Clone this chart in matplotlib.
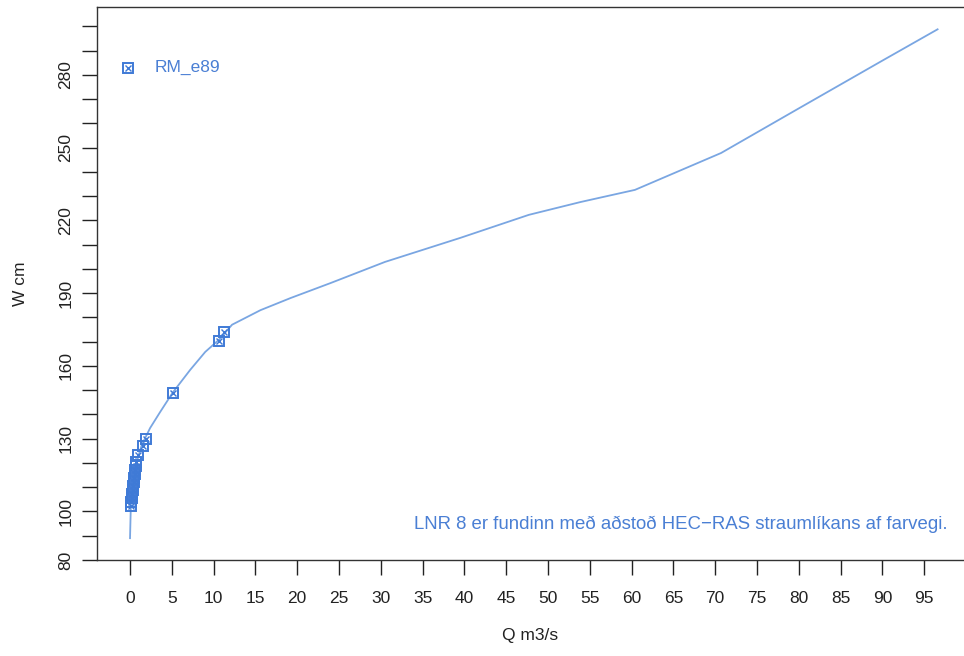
import numpy as np
import matplotlib.pyplot as plt

plt.rcParams['font.family'] = ['Liberation Sans', 'DejaVu Sans']

# measured points RM_e89 (Q m3/s, W cm)
meas_q = [11.26, 10.66, 5.15, 1.92, 1.56, 0.96, 0.72, 0.72, 0.60, 0.60,
          0.48, 0.48, 0.36, 0.36, 0.24, 0.24, 0.12, 0.12]
meas_w = [174.0, 170.3, 148.9, 129.9, 127.0, 123.3, 120.4, 118.8, 117.1, 115.5,
          113.8, 112.2, 110.5, 108.9, 107.2, 105.6, 103.9, 102.3]

# rating curve
curve_q = [0.0, 0.1, 0.5, 0.85, 1.4, 2.4, 3.6, 5.1, 7.2, 9.0, 10.7, 12.2,
           15.6, 19.2, 24.0, 30.5, 39.5, 47.7, 53.9, 60.4, 70.7, 80.0, 90.0, 96.6]
curve_w = [89.0, 102.7, 113.8, 121.0, 127.4, 134.4, 141.0, 149.0, 158.4, 165.8,
           171.0, 177.0, 183.0, 188.0, 194.2, 202.9, 212.8, 222.3, 227.6, 232.6,
           247.8, 266.2, 285.9, 298.8]

x_ticks = list(range(0, 100, 5))
y_ticks = list(range(80, 310, 10))
y_labels = [80, 100, 130, 160, 190, 220, 250, 280]

line_col = '#7aa6e2'
mark_col = '#3f7ad6'
text_col = '#4a7fd4'

fig = plt.figure(figsize=(9.64, 6.56), dpi=100)
ax = fig.add_axes([97/964, 1 - 560/656, 1 - 97/964, 553/656])

ax.plot(curve_q, curve_w, color=line_col, lw=1.3)
ax.plot(meas_q, meas_w, ls='none', marker='s', ms=7, mfc='none', mec=mark_col, mew=1.4)
ax.plot(meas_q, meas_w, ls='none', marker='x', ms=5, mec=mark_col, mew=1.0)

ax.set_xlim(-3.95, 99.76)
ax.set_ylim(80, 308)

ax.set_xticks(x_ticks)
ax.set_yticks(y_ticks)
ax.set_yticklabels([str(v) if v in y_labels else '' for v in y_ticks],
                   rotation=90, va='center')
ax.tick_params(axis='both', direction='out', length=11, width=1, colors='#222222',
               labelsize=12.5)
ax.tick_params(axis='x', pad=11)
ax.tick_params(axis='y', pad=6)

for s in ['left', 'top', 'bottom']:
    ax.spines[s].set_color('#333333')
    ax.spines[s].set_linewidth(1.0)
ax.spines['right'].set_visible(False)

ax.set_xlabel('Q m3/s', fontsize=12.5, labelpad=16, color='#222222')
ax.set_ylabel('W cm', fontsize=12.5, labelpad=22, color='#222222')

# legend
ax.plot([-0.2], [283], ls='none', marker='s', ms=7, mfc='none', mec=mark_col, mew=1.4)
ax.plot([-0.2], [283], ls='none', marker='x', ms=5, mec=mark_col, mew=1.0)
ax.text(3.0, 283, 'RM_e89', color=text_col, fontsize=12.5, va='center', ha='left')

ax.text(97.8, 94.5, 'LNR 8 er fundinn með aðstoð HEC\u2212RAS straumlíkans af farvegi.',
        color=text_col, fontsize=13.4, ha='right', va='center')

fig.savefig('out.png', dpi=100)
